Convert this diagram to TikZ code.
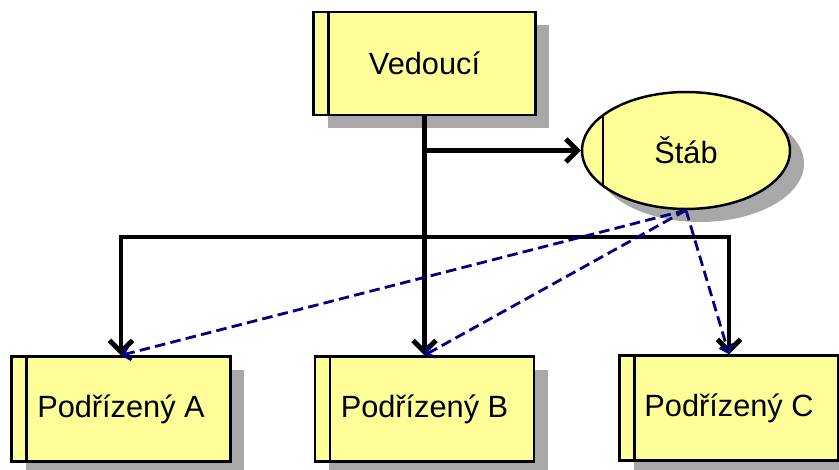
\documentclass[tikz,border=0pt]{standalone}
\usepackage{fontspec}
\setmainfont{Liberation Sans}
\usetikzlibrary{arrows.meta,shapes.geometric,shadows}
\definecolor{boxfill}{HTML}{FFFF99}
\definecolor{shadowgray}{HTML}{A8A8A8}
\definecolor{staffblue}{HTML}{000080}
\tikzset{
  unit/.style={draw=black, line width=1.4pt, fill=boxfill, inner sep=0pt,
    font=\fontsize{17.5}{20}\selectfont,
    drop shadow={shadow xshift=0.28cm, shadow yshift=-0.26cm, fill=shadowgray, opacity=1},
    path picture={\draw[line width=1.2pt]
      ([xshift=#1]path picture bounding box.north west) --
      ([xshift=#1]path picture bounding box.south west);}},
  rank/.style={unit=0.3cm, rectangle, minimum width=4.38cm, minimum height=2.1cm},
  staff/.style={unit=0.42cm, ellipse, minimum width=4.16cm, minimum height=2.34cm},
  line/.style={line width=2.8pt, -{Straight Barb[length=6.5pt,width=13pt]}},
  advice/.style={staffblue, line width=1.6pt, dash pattern=on 6pt off 3pt,
    -{Straight Barb[length=4pt,width=8pt]}}
}
\begin{document}
\begin{tikzpicture}[x=0.02cm,y=-0.02cm]
	\useasboundingbox (0,0) rectangle (839,470);
	
	\node[rank, minimum width=4.44cm, minimum height=2.06cm] (vedouci) at (424.5,63.5) {Vedoucí};
	\node[staff] (stab) at (686,150.5) {Štáb};
	
	\node[rank] (podA) at (121,409) {Podřízený A};
	\node[rank] (podB) at (424.5,409) {Podřízený B};
	\node[rank] (podC) at (729,408) {Podřízený C};
	
	% line
	\coordinate (bar) at (424.5,237);
	\draw[line] (vedouci.south) -- (podB.north);
	\draw[line] (vedouci.south |- stab.west) -- (stab.west);
	\draw[line] (bar) -| (podA.north);
	\draw[line] (bar) -| (podC.north);
	
	% staff
	\foreach \p in {podA,podB,podC}
		\draw[advice] (stab.south) -- (\p.north);
\end{tikzpicture}
\end{document}
